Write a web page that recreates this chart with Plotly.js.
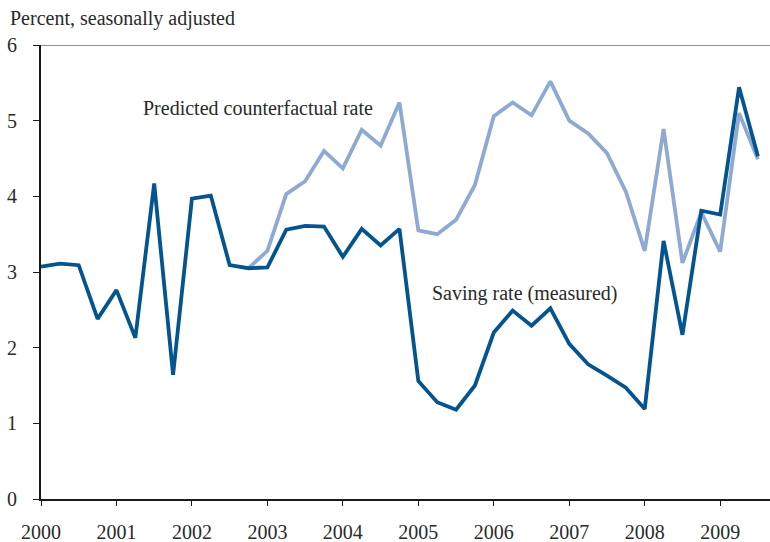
<!DOCTYPE html>
<html>
<head>
<meta charset="utf-8">
<script src="https://cdn.plot.ly/plotly-3.0.1.min.js"></script>
<style>html,body{margin:0;padding:0;background:#fff;}#chart{width:770px;height:542px;}</style>
</head>
<body>
<div id="chart"></div>
<script>
// Quarterly dates (year fractions), Q1 2000 – Q3 2009
const quarters = [
  2000.00, 2000.25, 2000.50, 2000.75,
  2001.00, 2001.25, 2001.50, 2001.75,
  2002.00, 2002.25, 2002.50, 2002.75,
  2003.00, 2003.25, 2003.50, 2003.75,
  2004.00, 2004.25, 2004.50, 2004.75,
  2005.00, 2005.25, 2005.50, 2005.75,
  2006.00, 2006.25, 2006.50, 2006.75,
  2007.00, 2007.25, 2007.50, 2007.75,
  2008.00, 2008.25, 2008.50, 2008.75,
  2009.00, 2009.25, 2009.50
];
const savingRate = [
  3.07, 3.11, 3.09, 2.38,
  2.76, 2.13, 4.17, 1.64,
  3.97, 4.01, 3.09, 3.05,
  3.06, 3.56, 3.61, 3.60,
  3.20, 3.57, 3.35, 3.57,
  1.56, 1.28, 1.18, 1.50,
  2.20, 2.49, 2.29, 2.52,
  2.05, 1.78, 1.63, 1.47,
  1.19, 3.41, 2.17, 3.81,
  3.76, 5.44, 4.53
];
// Counterfactual starts Q4 2002
const counterQuarters = quarters.slice(11);
const counterfactualRate = [
  3.05,
  3.28, 4.03, 4.20, 4.60,
  4.37, 4.88, 4.67, 5.24,
  3.55, 3.50, 3.69, 4.15,
  5.06, 5.24, 5.07, 5.52,
  5.00, 4.83, 4.57, 4.06,
  3.28, 4.89, 3.12, 3.79,
  3.27, 5.10, 4.49
];
const yearTicks = [2000, 2001, 2002, 2003, 2004, 2005, 2006, 2007, 2008, 2009];
const yearLabels = ['2000','2001','2002','2003','2004','2005','2006','2007','2008','2009'];
const yTicks = [0, 1, 2, 3, 4, 5, 6];

const serif = "'Liberation Serif', serif";
const textColor = '#2a2a2a';

const traces = [
  {
    x: counterQuarters, y: counterfactualRate, type: 'scatter', mode: 'lines',
    line: {color: '#8eaad2', width: 3.8}, hoverinfo: 'skip'
  },
  {
    x: quarters, y: savingRate, type: 'scatter', mode: 'lines',
    line: {color: '#03548f', width: 3.8}, hoverinfo: 'skip'
  }
];

const layout = {
  width: 770, height: 542,
  margin: {l: 41, r: 0, t: 45, b: 43, pad: 0},
  paper_bgcolor: '#fff', plot_bgcolor: '#fff',
  showlegend: false,
  font: {family: serif, size: 20, color: textColor},
  xaxis: {
    range: [2000, 2009.66], tickvals: yearTicks, ticktext: yearLabels,
    showgrid: false, zeroline: false,
    showline: true, linecolor: '#1a1a1a', linewidth: 2,
    ticks: 'outside', ticklen: 5, tickwidth: 1, tickcolor: '#1a1a1a',
    ticklabelstandoff: 9,
    tickfont: {family: serif, size: 20, color: textColor}
  },
  yaxis: {
    range: [0, 6], tickvals: yTicks,
    showgrid: false, zeroline: false,
    showline: true, linecolor: '#1a1a1a', linewidth: 2,
    ticks: 'outside', ticklen: 6, tickwidth: 1, tickcolor: '#1a1a1a',
    ticklabelstandoff: 12,
    tickfont: {family: serif, size: 20, color: textColor}
  },
  shapes: [
    {type: 'line', xref: 'paper', yref: 'y', x0: 0, x1: 1, y0: 6, y1: 6,
     line: {color: '#6a6a6a', width: 1.5}}
  ],
  annotations: [
    {xref: 'paper', yref: 'paper', x: -33/729, y: 1, xanchor: 'left', yanchor: 'bottom',
     yshift: 13, text: 'Percent, seasonally adjusted', showarrow: false,
     font: {family: serif, size: 20, color: textColor}},
    {xref: 'x', yref: 'y', x: 2001.33, y: 5.17, xanchor: 'left', yanchor: 'middle',
     text: 'Predicted counterfactual rate', showarrow: false,
     font: {family: serif, size: 20, color: textColor}},
    {xref: 'x', yref: 'y', x: 2005.16, y: 2.72, xanchor: 'left', yanchor: 'middle',
     text: 'Saving rate (measured)', showarrow: false,
     font: {family: serif, size: 20, color: textColor}}
  ]
};

Plotly.newPlot('chart', traces, layout, {displayModeBar: false, staticPlot: true});
</script>
</body>
</html>
